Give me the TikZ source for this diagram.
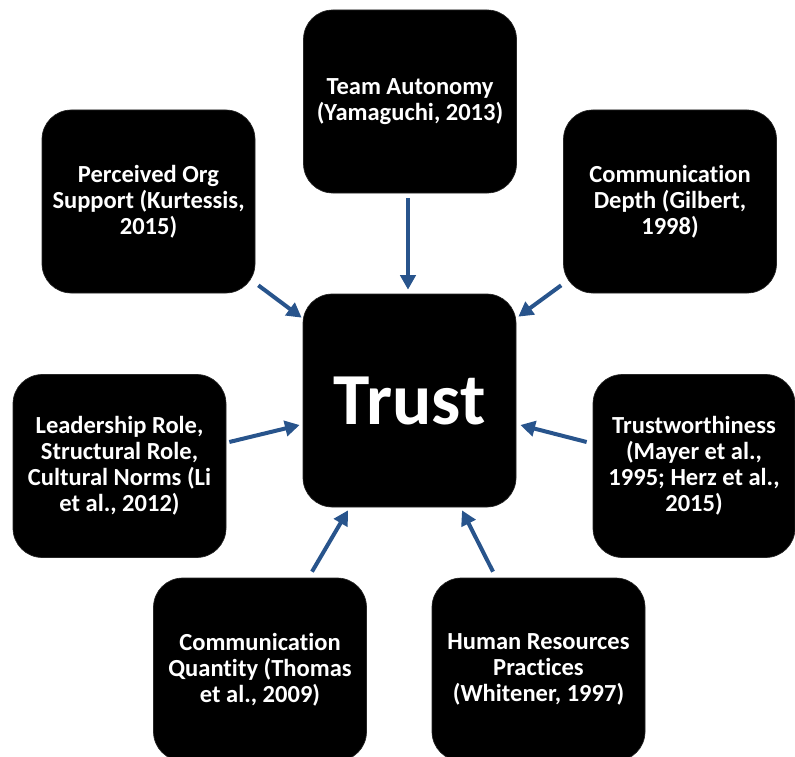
\documentclass[tikz,border=0pt]{standalone}
\usepackage{fontspec}
\setmainfont{Carlito}[Ligatures={NoCommon,NoContextual}]
\usetikzlibrary{arrows.meta,calc}
\definecolor{arrblue}{RGB}{40,84,140}
\tikzset{
  box/.style={rectangle, rounded corners=22pt, fill=black, draw=black!85, line width=0.5pt,
    minimum width=159.75pt, minimum height=137.25pt, inner sep=0pt, align=center,
    text=white, font=\fontsize{18.4}{19.5}\selectfont\bfseries},
  arr/.style={draw=arrblue, line width=3pt, -{Triangle[length=11pt,width=11.5pt]}}
}
\begin{document}
\begin{tikzpicture}[x=0.75pt,y=-0.75pt]
\useasboundingbox (0,0) rectangle (795,756);
\clip (0,0) rectangle (795,756);
\node[box] (ta) at (410,101.5) {Team Autonomy\\(Yamaguchi, 2013)};
\node[box] (po) at (148.5,201.5) {Perceived Org\\Support (Kurtessis,\\2015)};
\node[box] (cd) at (670,201.5) {Communication\\Depth (Gilbert,\\1998)};
\node[box, minimum height=159.75pt, font=\fontsize{55}{60}\selectfont\bfseries] (trust) at (409.5,400.5) {Trust};
\node[box] (lr) at (119.5,466) {Leadership Role,\\Structural Role,\\Cultural Norms (Li\\et al., 2012)};
\node[box, minimum width=151.5pt] (tw) at (694,466) {Trustworthiness\\(Mayer et al.,\\1995; Herz et al.,\\2015)};
\node[box] (cq) at (260,669.5) {Communication\\Quantity (Thomas\\et al., 2009)};
\node[box] (hr) at (538.5,669.5) {Human Resources\\Practices\\(Whitener, 1997)};
\draw[arr] ([shift={(-2,5)}]ta.south) -- ([shift={(-1.5,-4)}]trust.north);
\draw[arr] ([shift={(3,-8)}]po.south east) -- ([shift={(-1,24)}]trust.north west);
\draw[arr] ([shift={(-2,-8)}]cd.south west) -- ([shift={(2,23)}]trust.north east);
\draw[arr] ([shift={(3,-24)}]lr.east) -- ([shift={(-3,24.5)}]trust.west);
\draw[arr] ([shift={(-6,-24)}]tw.west) -- ([shift={(4,24.5)}]trust.east);
\draw[arr] ([shift={(52,-6)}]cq.north) -- ([shift={(-61.5,3)}]trust.south);
\draw[arr] ([shift={(-45.5,-6)}]hr.north) -- ([shift={(52.5,3)}]trust.south);
\end{tikzpicture}
\end{document}
